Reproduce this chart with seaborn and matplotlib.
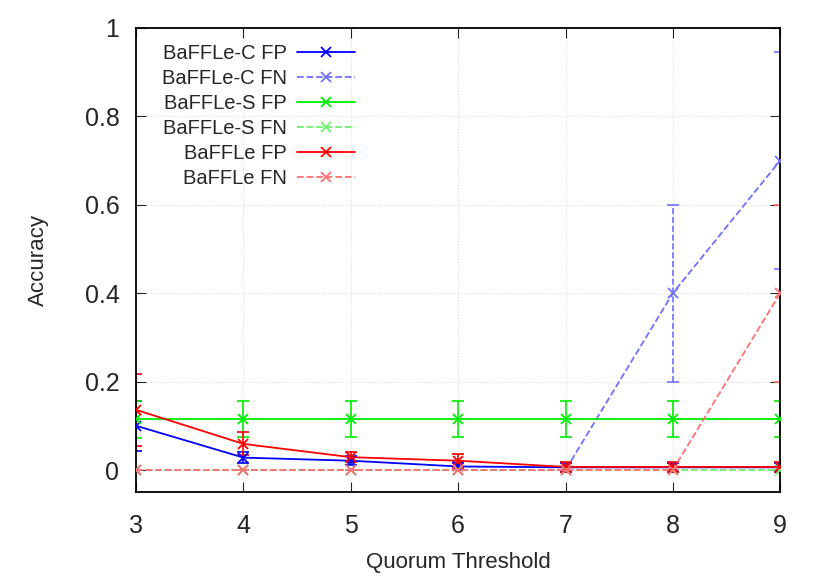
import numpy as np
import pandas as pd
import seaborn as sns
import matplotlib
matplotlib.use('Agg')
import matplotlib.pyplot as plt

# quorum thresholds
quorum = [3, 4, 5, 6, 7, 8, 9]

# mean values
c_fp = [0.100, 0.028, 0.021, 0.008, 0.006, 0.006, 0.006]
c_fn = [0.0, 0.0, 0.0, 0.0, 0.0, 0.40, 0.70]
s_fp = [0.115, 0.115, 0.115, 0.115, 0.115, 0.115, 0.115]
s_fn = [0.0, 0.0, 0.0, 0.0, 0.0, 0.0, 0.0]
b_fp = [0.136, 0.059, 0.029, 0.021, 0.007, 0.007, 0.007]
b_fn = [0.0, 0.0, 0.0, 0.0, 0.0, 0.0, 0.40]

# error bar half widths
c_fp_err = [0.056, 0.013, 0.010, 0.008, 0.010, 0.010, 0.010]
c_fn_err = [0.0, 0.0, 0.0, 0.0, 0.0, 0.20, 0.245]
s_fp_err = [0.042, 0.040, 0.040, 0.040, 0.040, 0.040, 0.040]
s_fn_err = [0.0, 0.0, 0.0, 0.0, 0.0, 0.0, 0.0]
b_fp_err = [0.081, 0.026, 0.012, 0.016, 0.012, 0.012, 0.012]
b_fn_err = [0.0, 0.0, 0.0, 0.0, 0.0, 0.0, 0.20]

labels = ['BaFFLe-C FP', 'BaFFLe-C FN', 'BaFFLe-S FP', 'BaFFLe-S FN', 'BaFFLe FP', 'BaFFLe FN']
means = [c_fp, c_fn, s_fp, s_fn, b_fp, b_fn]
errs = [c_fp_err, c_fn_err, s_fp_err, s_fn_err, b_fp_err, b_fn_err]
colors = ['#0000ff', '#7070ff', '#00ee00', '#70f070', '#ff0000', '#ff7070']
styles = ['-', '--', '-', '--', '-', '--']

sns.set_style('ticks')
plt.rcParams['font.family'] = ['Liberation Sans', 'DejaVu Sans']

fig = plt.figure(figsize=(8.3, 5.81), dpi=100)
ax = fig.add_axes([0.164, 0.153, 0.776, 0.799])

rows = []
for lab, m in zip(labels, means):
    for q, v in zip(quorum, m):
        rows.append({'Quorum': q, 'Accuracy': v, 'series': lab})
df = pd.DataFrame(rows)

for i, lab in enumerate(labels):
    d = df[df['series'] == lab]
    eb = ax.errorbar(quorum, means[i], yerr=errs[i], fmt='none', ecolor=colors[i],
                     elinewidth=1.2, capsize=4.5, capthick=1.2, zorder=2)
    for lc in eb[2]:
        lc.set_linestyle(styles[i])
    sns.lineplot(data=d, x='Quorum', y='Accuracy', ax=ax, color=colors[i],
                 linestyle=styles[i], marker='x', markersize=7, markeredgewidth=1.3,
                 markeredgecolor=colors[i], linewidth=1.3, label=lab, zorder=3)

ax.set_xlim(3, 9)
ax.set_ylim(-0.05, 1.0)
ax.set_xticks(quorum)
ax.set_yticks([0, 0.2, 0.4, 0.6, 0.8, 1])
ax.set_yticklabels(['0', '0.2', '0.4', '0.6', '0.8', '1'])
ax.grid(True, color='#dddddd', linestyle=':', linewidth=0.8)
ax.tick_params(direction='in', top=True, right=True, labelsize=18, length=7, pad=12)
ax.tick_params(axis='x', pad=16)
for sp in ax.spines.values():
    sp.set_linewidth(1.3)
    sp.set_color('black')
ax.set_xlabel('Quorum Threshold', fontsize=16, labelpad=10)
ax.set_ylabel('Accuracy', fontsize=16, labelpad=26)

ax.legend(loc='upper left', bbox_to_anchor=(0.04, 0.965), frameon=False,
          fontsize=14.5, markerfirst=False, handlelength=2.9,
          labelspacing=0.3, handletextpad=0.5, borderpad=0, borderaxespad=0)

fig.savefig('out.png', dpi=100)
